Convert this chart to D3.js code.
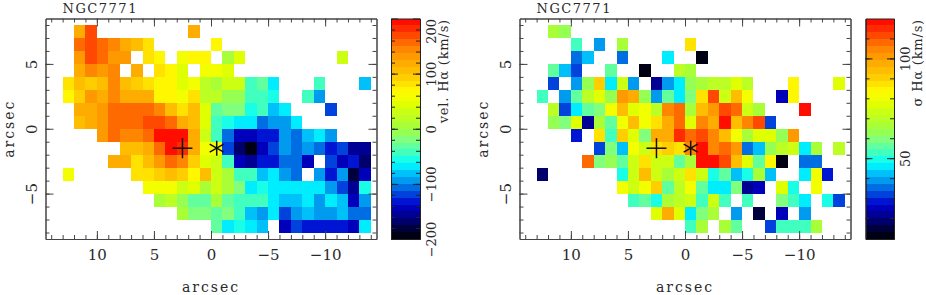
<html>
<head>
    <style>
        body {
            margin: 0;
            background: white;
            font-family: "DejaVu Serif", serif;
        }
        svg {
            display: block;
        }
        .axis path, .axis line {
            stroke: #444;
            stroke-width: 1;
        }
        .axis text {
            font-family: "DejaVu Serif", serif;
            font-size: 15px;
            fill: #2a2a2a;
        }
        .barAxis path, .barAxis line {
            stroke: #222;
            stroke-width: 1;
        }
        .barAxis text {
            font-family: "DejaVu Serif", serif;
            font-size: 13px;
            fill: #2a2a2a;
        }
        .label {
            font-size: 14px;
            letter-spacing: 2px;
            fill: #2a2a2a;
        }
        .title {
            font-size: 13px;
            letter-spacing: 1.5px;
            fill: #2a2a2a;
        }
        .barLabel {
            font-size: 13px;
            letter-spacing: 0.8px;
            fill: #2a2a2a;
        }
    </style>
    <script src="https://cdnjs.cloudflare.com/ajax/libs/d3/7.8.5/d3.min.js"></script>
</head>

<body>
    <svg id="chart" width="926" height="295"></svg>
</body>

<script>
    const _ = null

    // first column starts at x=13, first row at y=8, both one arcsec wide
    const firstCol = 13
    const firstRow = 8

    const velocityRows = [
        [_,120,168,_,_,_,_,_,_,_,_,120],
        [_,155,172,155,138,120,100,85,_,_,_,_,_,70],
        [_,132,172,150,130,132,_,85,65,_,50,65,65,_,8,40,_,_,_,_,_,_,_,_,25],
        [_,115,140,130,140,_,120,_,80,65,45,_,58,50,42],
        [80,110,95,100,140,110,90,80,72,72,45,58,15,8,30,28,-50,-28,-68,_,_,_,-50,_,_,_,-80],
        [65,90,125,115,140,115,120,120,65,65,60,85,18,18,-8,-8,-42,-42,-55,_,_,-42,-95],
        [_,118,115,125,157,158,160,160,145,100,75,100,40,-35,-22,-20,-55,-50,-78,-68,_,_,_,-125],
        [_,110,115,125,155,157,158,168,170,155,120,100,45,-45,-55,-68,-72,-105,-90,-95,-68],
        [_,_,_,125,150,140,145,155,190,190,188,115,35,-50,-110,-140,-142,-135,-130,-95,-105,-78,-68,-95],
        [_,_,_,_,_,105,110,120,155,192,185,120,60,55,-125,-175,-190,-140,-125,-95,-110,-100,-105,-130,-125,-160,-155],
        [_,_,_,_,120,115,85,105,125,155,148,88,45,30,-40,-140,-160,-135,-130,-110,-110,-140,_,-120,-140,-135,-170],
        [60,_,_,_,_,_,80,85,90,110,95,65,100,35,5,-50,-40,-78,-68,-95,-110,_,-100,-130,-100,-180,-150],
        [_,_,_,_,_,_,_,55,50,58,30,38,12,33,5,-22,-68,-60,-68,-68,-68,-75,-75,-100,-120,-160,-55],
        [_,_,_,_,_,_,_,_,10,18,-8,-28,-35,5,-28,-38,-48,-42,-68,-80,-78,-73,-90,-72,-82,-140,-88],
        [_,_,_,_,_,_,_,_,_,_,5,-18,-22,-35,-15,-50,-80,-100,-72,-120,-95,-80,-93,-95,-85,-110,-105],
        [_,_,_,_,_,_,_,_,_,_,_,_,_,-35,-68,-60,-72,-80,_,-140,-115,-130,-130,-135,-130,-148,-68]
    ]

    const sigmaRows = [
        [_,67,64],
        [_,_,_,53,_,38,_,65,_,_,_,_,_,87],
        [_,_,_,37,44,_,_,34,_,_,_,47,_,_,10],
        [_,55,42,33,_,_,55,_,_,10,_,_,70,65],
        [_,32,_,40,62,90,47,72,38,_,21,38,46,63,66,70,69,76,71,_,_,_,85,_,_,_,76],
        [53,_,39,57,71,78,62,100,97,62,39,57,47,60,87,110,74,95,80,_,_,26,85],
        [_,71,33,47,55,60,82,95,78,80,69,104,107,68,95,100,113,107,72,66,_,_,_,118],
        [_,62,60,76,23,68,57,82,95,79,87,97,108,78,105,98,118,95,105,110,33],
        [_,_,_,30,_,87,53,89,78,60,98,98,116,109,112,104,95,82,66,78,76,62,100],
        [_,_,_,_,_,32,58,42,79,73,88,92,87,105,118,103,107,100,37,41,62,71,73,47,68,_,69],
        [_,_,_,_,107,58,64,57,73,88,73,73,57,65,118,118,113,95,78,57,85,10,_,37,34],
        [18,_,_,_,_,_,_,50,72,93,73,65,75,87,73,50,55,44,50,68,41,_,_,45,80,30],
        [_,_,_,_,_,_,_,79,72,82,92,57,70,80,55,45,47,58,21,25,_,78,49,_,79],
        [_,_,_,_,_,_,_,_,52,55,50,68,69,75,54,72,52,_,54,_,_,59,54,47,_,48,32],
        [_,_,_,_,_,_,_,_,_,_,78,97,78,45,60,66,_,39,_,16,_,25,_,40],
        [_,_,_,_,_,_,_,_,_,_,_,_,_,52,66,_,68,55,_,_,33,53,51,53,68]
    ]

    const xMajor = [10, 5, 0, -5, -10]
    const yMajor = [5, 0, -5]
    const xMinor = d3.range(-14, 15)
    const yMinor = d3.range(-8, 9)

    const velMajor = [-200, -100, 0, 100, 200]
    const velMinor = d3.range(-180, 200, 20)
    const sigmaMajor = [50, 100]
    const sigmaMinor = d3.range(20, 120, 10)

    const plusX = 2.5
    const plusY = -1.5
    const starX = -0.5
    const starY = -1.5

    // colour table, position 0 is the bottom of the bar
    const stopPos = [0, 0.05, 0.09, 0.12, 0.158, 0.19, 0.225, 0.27, 0.31, 0.34, 0.39, 0.45, 0.5, 0.556, 0.61, 0.66, 0.73, 0.79, 0.87, 0.93, 1]
    const stopColours = ["#000000", "#000040", "#000080", "#0000a0", "#0000d0", "#0030d8", "#0060e0", "#00a0f0", "#00d0ff", "#00ffff",
        "#40ffc0", "#80ff80", "#a0ff40", "#c0ff20", "#e0ff00", "#ffff00", "#ffd000", "#ffb000", "#ff8000", "#ff4000", "#ff0000"]
    const levels = 32

    let svg = d3.select("#chart")
    let colourTable = d3.scaleLinear().domain(stopPos).range(stopColours)
    let levelColours = d3.range(levels).map(i => colourTable((i + 0.5) / levels))

    let height = { top: 18.5, bottom: 239 }

    function drawPanel(config) {
        let { left, right, rows, domain, barLeft, barRight, barMajor, barMinor, barTitle, barTitleEnd } = config
        let g = svg.append("g")

        let xScale = d3.scaleLinear().domain([14.5, -14.5]).range([left, right])
        let yScale = d3.scaleLinear().domain([8.5, -8.5]).range([height.top, height.bottom])
        let colour = d3.scaleQuantize().domain(domain).range(levelColours)

        let cells = rows.flatMap((row, r) => row.map((value, c) => ({ value, c, r }))).filter(d => d.value !== null)

        g.selectAll(".cell")
            .data(cells)
            .enter().append("rect")
            .attr("class", "cell")
            .attr("x", d => xScale(firstCol - d.c))
            .attr("y", d => yScale(firstRow - d.r))
            .attr("width", d => xScale(firstCol - d.c - 1) - xScale(firstCol - d.c))
            .attr("height", d => yScale(firstRow - d.r - 1) - yScale(firstRow - d.r))
            .attr("fill", d => colour(d.value))
            .attr("shape-rendering", "crispEdges")

        frameAxes(g, xScale, yScale, left, right)
        drawMarkers(g, xScale, yScale)

        // title and axis labels
        g.append("text").attr("class", "title")
            .attr("x", xScale(firstCol)).attr("y", 12.5)
            .text("NGC7771")
        g.append("text").attr("class", "label")
            .attr("x", (left + right) / 2).attr("y", 291.5)
            .attr("text-anchor", "middle")
            .text("arcsec")
        g.append("text").attr("class", "label")
            .attr("text-anchor", "middle")
            .attr("transform", `translate(${left - 32},${yScale(0)}) rotate(-90)`)
            .text("arcsec")

        drawColourBar(g, colour, domain, barLeft, barRight, barMajor, barMinor, barTitle, barTitleEnd)
    }

    function frameAxes(g, xScale, yScale, left, right) {
        // minor ticks on all four sides, no numbers
        let sides = [
            [d3.axisBottom(xScale), xMinor, xMajor, `translate(0,${height.bottom})`],
            [d3.axisTop(xScale), xMinor, xMajor, `translate(0,${height.top})`],
            [d3.axisLeft(yScale), yMinor, yMajor, `translate(${left},0)`],
            [d3.axisRight(yScale), yMinor, yMajor, `translate(${right},0)`]
        ]
        sides.forEach(([axis, minor, major, place]) => {
            g.append("g").attr("class", "axis").attr("transform", place)
                .call(axis.tickValues(minor).tickSize(-4).tickSizeOuter(0).tickFormat(""))
            g.append("g").attr("class", "axis").attr("transform", place)
                .call(axis.tickValues(major).tickSize(-8).tickSizeOuter(0).tickFormat(""))
        })

        g.append("g").attr("class", "axis").attr("transform", `translate(0,${height.bottom})`)
            .call(d3.axisBottom(xScale).tickValues(xMajor).tickSize(0).tickPadding(10))
            .call(s => s.select(".domain").remove())

        g.append("g").attr("class", "axis").attr("transform", `translate(${left},0)`)
            .call(d3.axisLeft(yScale).tickValues(yMajor).tickSize(0))
            .call(s => s.select(".domain").remove())
            .selectAll("text")
            .attr("x", 0).attr("y", 0).attr("dy", 0)
            .attr("text-anchor", "middle")
            .attr("transform", "translate(-9,0) rotate(-90)")
    }

    function drawMarkers(g, xScale, yScale) {
        let line = (x1, y1, x2, y2) => g.append("line")
            .attr("x1", x1).attr("y1", y1).attr("x2", x2).attr("y2", y2)
            .attr("stroke", "#111").attr("stroke-width", 1.5)

        let px = xScale(plusX), py = yScale(plusY)
        line(px - 10, py, px + 10, py)
        line(px, py - 10, px, py + 10)

        let sx = xScale(starX), sy = yScale(starY)
        line(sx, sy - 7.5, sx, sy + 7.5)
        line(sx - 7, sy - 4, sx + 7, sy + 4)
        line(sx - 7, sy + 4, sx + 7, sy - 4)
    }

    function drawColourBar(g, colour, domain, barLeft, barRight, major, minor, barTitle, barTitleEnd) {
        let barScale = d3.scaleLinear().domain(domain).range([height.bottom, height.top])
        let step = (domain[1] - domain[0]) / levels

        g.selectAll(".band")
            .data(d3.range(levels))
            .enter().append("rect")
            .attr("class", "band")
            .attr("x", barLeft)
            .attr("width", barRight - barLeft)
            .attr("y", i => barScale(domain[0] + (i + 1) * step))
            .attr("height", i => barScale(domain[0] + i * step) - barScale(domain[0] + (i + 1) * step))
            .attr("fill", i => levelColours[i])
            .attr("shape-rendering", "crispEdges")

        let sides = [
            [d3.axisLeft(barScale), `translate(${barLeft},0)`],
            [d3.axisRight(barScale), `translate(${barRight},0)`]
        ]
        sides.forEach(([axis, place]) => {
            g.append("g").attr("class", "barAxis").attr("transform", place)
                .call(axis.tickValues(minor).tickSize(-4).tickSizeOuter(0).tickFormat(""))
            g.append("g").attr("class", "barAxis").attr("transform", place)
                .call(axis.tickValues(major).tickSize(-7).tickSizeOuter(0).tickFormat(""))
        })

        // closing lines along the top and bottom of the bar
        g.append("g").attr("class", "barAxis").attr("transform", `translate(0,${height.top})`)
            .call(d3.axisTop(d3.scaleLinear().domain([0, 1]).range([barLeft, barRight])).tickValues([]).tickSizeOuter(0))
        g.append("g").attr("class", "barAxis").attr("transform", `translate(0,${height.bottom})`)
            .call(d3.axisBottom(d3.scaleLinear().domain([0, 1]).range([barLeft, barRight])).tickValues([]).tickSizeOuter(0))

        g.append("g").attr("class", "barAxis").attr("transform", `translate(${barRight},0)`)
            .call(d3.axisRight(barScale).tickValues(major).tickSize(0))
            .call(s => s.select(".domain").remove())
            .selectAll("text")
            .attr("x", 0).attr("y", 0).attr("dy", 0)
            .attr("text-anchor", d => d === domain[1] ? "end" : "middle")
            .attr("transform", "translate(16,0) rotate(-90)")

        g.append("text").attr("class", "barLabel")
            .attr("text-anchor", "end")
            .attr("transform", `translate(${barRight + 28},${barTitleEnd}) rotate(-90)`)
            .text(barTitle)
    }

    drawPanel({
        left: 45.5, right: 376.5, rows: velocityRows, domain: [-200, 200],
        barLeft: 391, barRight: 420, barMajor: velMajor, barMinor: velMinor,
        barTitle: "vel. Hα (km/s)", barTitleEnd: 19
    })
    drawPanel({
        left: 519.5, right: 850.5, rows: sigmaRows, domain: [9.5, 120],
        barLeft: 865.5, barRight: 894, barMajor: sigmaMajor, barMinor: sigmaMinor,
        barTitle: "σ Hα (km/s)", barTitleEnd: 19
    })
</script>
</html>
